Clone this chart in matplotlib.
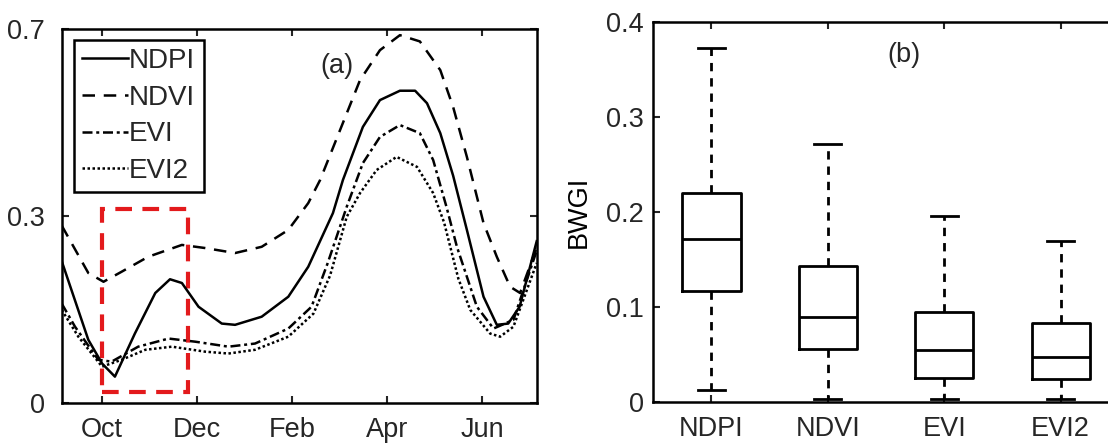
import matplotlib
matplotlib.use("Agg")
import matplotlib.pyplot as plt
from matplotlib.patches import Rectangle

plt.rcParams['font.family'] = ['Liberation Sans', 'DejaVu Sans']
plt.rcParams['text.color'] = '#262626'
plt.rcParams['xtick.color'] = '#262626'
plt.rcParams['ytick.color'] = '#262626'

# ---- panel (a): seasonal profiles (x = month index, Oct = 1) ----
month_ticks = [1, 3, 5, 7, 9]
month_labels = ['Oct', 'Dec', 'Feb', 'Apr', 'Jun']

ndpi_x = [0.15, 0.71, 1.0, 1.27, 1.69, 2.12, 2.43, 2.68, 3.03, 3.52, 3.8, 4.36, 4.92, 5.34,
          5.86, 6.07, 6.49, 6.85, 7.27, 7.59, 7.84, 8.12, 8.39, 8.68, 9.03, 9.31, 9.55,
          9.79, 10.15]
ndpi_y = [0.228, 0.102, 0.064, 0.043, 0.112, 0.177, 0.199, 0.193, 0.155, 0.128, 0.126,
          0.139, 0.171, 0.219, 0.305, 0.358, 0.443, 0.486, 0.501, 0.501, 0.481, 0.433,
          0.365, 0.278, 0.171, 0.126, 0.128, 0.155, 0.26]

ndvi_x = [0.15, 0.71, 1.03, 1.41, 1.97, 2.68, 3.17, 3.8, 4.36, 4.92, 5.34, 5.59, 6.01,
          6.43, 6.85, 7.27, 7.69, 8.12, 8.39, 8.68, 9.03, 9.31, 9.59, 9.8, 10.15]
ndvi_y = [0.285, 0.209, 0.195, 0.211, 0.235, 0.254, 0.249, 0.241, 0.251, 0.278, 0.321,
          0.358, 0.438, 0.518, 0.566, 0.590, 0.58, 0.534, 0.475, 0.395, 0.289, 0.235,
          0.187, 0.177, 0.25]

evi_x = [0.15, 0.43, 0.92, 1.2, 1.76, 2.4, 2.96, 3.66, 4.22, 4.92, 5.41, 5.75, 6.15,
         6.49, 6.85, 7.27, 7.69, 7.97, 8.25, 8.47, 8.89, 9.24, 9.66, 10.15]
evi_y = [0.16, 0.123, 0.07, 0.067, 0.091, 0.104, 0.099, 0.091, 0.096, 0.12, 0.155, 0.225,
         0.315, 0.385, 0.427, 0.446, 0.433, 0.39, 0.315, 0.251, 0.155, 0.12, 0.134, 0.245]

evi2_x = [0.15, 0.5, 1.0, 1.41, 1.91, 2.47, 3.17, 3.66, 4.22, 4.92, 5.45, 5.8, 6.15,
          6.43, 6.78, 7.2, 7.63, 7.97, 8.2, 8.5, 8.75, 9.17, 9.38, 9.66, 10.15]
evi2_y = [0.15, 0.107, 0.059, 0.07, 0.086, 0.091, 0.083, 0.08, 0.086, 0.107, 0.144,
          0.205, 0.299, 0.337, 0.374, 0.395, 0.379, 0.337, 0.29, 0.2, 0.15, 0.112, 0.107,
          0.123, 0.225]

ya_ticks = [0, 0.3, 0.6]
ya_labels = ['0', '0.3', '0.7']

# ---- panel (b): BWGI box statistics ----
names = ['NDPI', 'NDVI', 'EVI', 'EVI2']
whislo = [0.012, 0.003, 0.003, 0.003]
q1 = [0.117, 0.055, 0.0246, 0.024]
med = [0.171, 0.0895, 0.054, 0.047]
q3 = [0.220, 0.143, 0.094, 0.0825]
whishi = [0.372, 0.271, 0.196, 0.169]

fs = 19.5

fig = plt.figure(figsize=(11.08, 4.45), dpi=100)

# panel (a)
ax1 = fig.add_axes([0.0557, 0.0933, 0.4287, 0.8417])
ax1.plot(ndpi_x, ndpi_y, color='black', lw=1.8, ls='-', label='NDPI')
ax1.plot(ndvi_x, ndvi_y, color='black', lw=1.8, ls=(0, (5, 3.5)), label='NDVI')
ax1.plot(evi_x, evi_y, color='black', lw=1.8, ls=(0, (4, 1.5, 1.2, 1.5)), label='EVI')
ax1.plot(evi2_x, evi2_y, color='black', lw=1.8, ls=(0, (1, 1)), label='EVI2')
ax1.add_patch(Rectangle((1.0, 0.018), 1.8, 0.294, fill=False, edgecolor='#e31a1c',
                        lw=3, ls=(0, (4, 2.5))))
ax1.text(5.95, 0.54, '(a)', fontsize=fs, ha='center', va='center')
ax1.set_xlim(0.15, 10.15)
ax1.set_ylim(0, 0.6)
ax1.set_xticks(month_ticks)
ax1.set_xticklabels(month_labels)
ax1.set_yticks(ya_ticks)
ax1.set_yticklabels(ya_labels)
leg = ax1.legend(loc='upper left', bbox_to_anchor=(0.025, 0.971), fontsize=20,
                 handlelength=1.65, handletextpad=0.05, labelspacing=0.38,
                 borderpad=0.3, borderaxespad=0.0, fancybox=False, framealpha=1)
leg.get_frame().set_edgecolor('black')
leg.get_frame().set_linewidth(1.8)

# panel (b)
ax2 = fig.add_axes([0.5896, 0.0973, 0.4202, 0.8537])
stats = []
for i in range(len(names)):
    stats.append({'label': names[i], 'whislo': whislo[i], 'q1': q1[i], 'med': med[i],
                  'q3': q3[i], 'whishi': whishi[i], 'fliers': []})
ax2.bxp(stats, positions=[1, 2, 3, 4], widths=0.5, capwidths=0.23, showfliers=False,
        boxprops=dict(color='black', lw=2),
        medianprops=dict(color='black', lw=2),
        whiskerprops=dict(color='black', lw=2, ls=(0, (3, 2.5))),
        capprops=dict(color='black', lw=2))
ax2.text(2.65, 0.365, '(b)', fontsize=fs, ha='center', va='center')
ax2.set_xlim(0.5, 4.5)
ax2.set_ylim(0, 0.4)
ax2.set_yticks([0, 0.1, 0.2, 0.3, 0.4])
ax2.set_yticklabels(['0', '0.1', '0.2', '0.3', '0.4'])
ax2.set_ylabel('BWGI', fontsize=fs, labelpad=10)

for ax in (ax1, ax2):
    ax.tick_params(direction='in', top=True, right=True, labelsize=fs, length=5,
                   width=1.5)
    ax.tick_params(axis='x', pad=10)
    for s in ax.spines.values():
        s.set_linewidth(1.8)
ax1.tick_params(axis='y', pad=12)
ax2.tick_params(axis='y', pad=7)

fig.savefig('out.png', dpi=100)
